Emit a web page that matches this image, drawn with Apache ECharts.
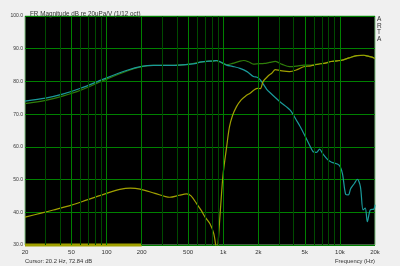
<!DOCTYPE html>
<html>
<head>
<meta charset="utf-8">
<script src="https://cdn.jsdelivr.net/npm/echarts@6/dist/echarts.min.js"></script>
<style>
  html, body { margin: 0; padding: 0; background: #f0f0f0; }
  #chart { width: 400px; height: 266px; }
</style>
</head>
<body>
<div id="chart"></div>
<script>
// woofer (teal)
var wooferFreq = [20, 30, 42, 60, 94, 150, 200, 252, 372, 500, 590, 632, 830, 880, 1000, 1068, 1200, 1392, 1600, 1812, 1950, 2080, 2360, 2512, 3060, 3730, 4300, 4550, 5000, 5500, 5900, 6300, 6700, 7100, 7900, 8500, 9800, 10500, 11200, 11800, 12400, 13300, 14100, 15000, 15800, 16500, 17200, 18200, 19600, 20000];
var wooferDb = [74.0, 74.9, 76.1, 77.9, 80.7, 83.4, 84.6, 84.9, 84.9, 85.2, 85.5, 85.9, 86.3, 86.4, 85.5, 85.0, 84.6, 84.0, 83.0, 81.5, 81.3, 80.5, 77.6, 76.6, 73.8, 71.3, 67.8, 66.3, 63.5, 60.5, 58.5, 58.3, 59.3, 58.0, 56.0, 55.3, 54.5, 52.0, 45.5, 45.3, 47.3, 48.8, 50.1, 47.8, 40.7, 41.3, 37.1, 40.7, 41.0, 42.3];

// sum (green)
var sumFreq = [20, 30, 42, 60, 94, 150, 200, 252, 372, 500, 632, 880, 1000, 1070, 1200, 1392, 1500, 1650, 1812, 2000, 2250, 2500, 2800, 3200, 3700, 4300, 4900, 5500, 6000, 6800, 7500, 8400, 9500, 10700, 12000, 14000, 16000, 17000, 18500, 20000];
var sumDb = [73.2, 74.2, 75.5, 77.3, 80.3, 83.2, 84.5, 84.9, 84.9, 85.2, 85.9, 86.3, 85.5, 85.1, 85.5, 86.2, 86.4, 86.0, 85.3, 85.4, 85.5, 85.8, 86.1, 85.2, 84.5, 84.7, 85.0, 85.0, 85.1, 85.4, 85.6, 86.1, 86.3, 86.6, 87.2, 87.9, 88.0, 87.8, 87.5, 87.0];

// tweeter (yellow)
var tweeterFreq = [20, 28, 35, 50, 67, 100, 130, 160, 194, 260, 348, 420, 485, 530, 590, 650, 700, 770, 830, 870, 890, 910, 960, 1000, 1070, 1130, 1200, 1300, 1420, 1550, 1700, 1960, 2080, 2200, 2450, 2600, 2800, 3100, 3700, 4300, 4900, 5500, 6000, 6800, 7500, 8400, 9500, 10700, 12000, 14000, 16000, 17000, 18500, 20000];
var tweeterDb = [38.5, 39.8, 40.7, 42.2, 43.7, 45.8, 47.0, 47.4, 47.1, 45.8, 44.6, 45.2, 45.6, 45.0, 42.7, 40.5, 38.5, 36.5, 33.5, 29.0, 27.0, 32.0, 44.0, 52.0, 60.0, 66.0, 69.5, 72.3, 74.3, 75.5, 76.4, 77.9, 77.8, 80.0, 81.8, 82.5, 83.6, 83.3, 83.0, 83.6, 84.5, 84.7, 85.0, 85.4, 85.6, 86.1, 86.3, 86.6, 87.2, 87.9, 88.0, 87.8, 87.5, 87.0];

// marker bar at the bottom
var markerFreq = [20, 200];
var markerDb = [30, 30];

var xLabels = [20, 50, 100, 200, 500, 1000, 2000, 5000, 10000, 20000];
var majorGrid = [50, 100, 200, 500, 1000, 2000, 5000, 10000];
var minorGrid = [30, 40, 60, 70, 80, 90, 300, 400, 600, 700, 800, 900, 3000, 4000, 6000, 7000, 8000, 9000];

function pairs(fs, vs) {
  return fs.map(function (f, i) { return [f, vs[i]]; });
}

var font = "Liberation Sans, Arial, sans-serif";
var chart = echarts.init(document.getElementById("chart"));

var option = {
  backgroundColor: "#f0f0f0",
  animation: false,
  title: {
    text: "FR Magnitude dB re 20uPa/V (1/12 oct)",
    left: 25,
    top: 6,
    textStyle: { fontSize: 6.3, fontWeight: "normal", color: "#333", fontFamily: font }
  },
  grid: {
    left: 25, right: 25, top: 16, bottom: 21,
    show: true,
    backgroundColor: "#000",
    borderColor: "#80c080",
    borderWidth: 1
  },
  xAxis: {
    type: "log",
    logBase: 10,
    min: 20,
    max: 20000,
    axisLine: { show: false },
    axisTick: { show: false },
    splitLine: { show: false },
    axisLabel: {
      customValues: xLabels,
      fontSize: 6,
      color: "#333",
      fontFamily: font,
      margin: 4,
      formatter: function (v) {
        return v >= 1000 ? (v / 1000) + "k" : String(v);
      }
    }
  },
  yAxis: {
    type: "value",
    min: 30,
    max: 100,
    interval: 10,
    axisLine: { show: false },
    axisTick: { show: false },
    splitLine: { lineStyle: { color: "#008000", width: 1 } },
    axisLabel: {
      fontSize: 5,
      color: "#333",
      fontFamily: font,
      margin: 2,
      formatter: function (v) { return v.toFixed(1); }
    }
  },
  graphic: [
    { type: "text", left: 25, top: 258, style: { text: "Cursor: 20.2 Hz, 72.84 dB", fontSize: 5.8, fill: "#333", fontFamily: font } },
    { type: "text", right: 25, top: 258, style: { text: "Frequency (Hz)", fontSize: 5.8, fill: "#333", fontFamily: font } },
    { type: "text", left: 377, top: 16, style: { text: "A\nR\nT\nA", fontSize: 6.5, lineHeight: 6.5, fill: "#333", fontFamily: font } }
  ],
  series: [
    {
      name: "grid",
      type: "line",
      data: [],
      silent: true,
      markLine: {
        silent: true,
        symbol: "none",
        label: { show: false },
        animation: false,
        data: minorGrid.map(function (f) {
          return { xAxis: f, lineStyle: { color: "#004a00", width: 1, type: "solid" } };
        }).concat(majorGrid.map(function (f) {
          return { xAxis: f, lineStyle: { color: "#008000", width: 1, type: "solid" } };
        }))
      }
    },
    {
      name: "sum",
      type: "line",
      data: pairs(sumFreq, sumDb),
      showSymbol: false,
      smooth: 0.3,
      lineStyle: { color: "#2f7d0a", width: 1.2 }
    },
    {
      name: "woofer",
      type: "line",
      data: pairs(wooferFreq, wooferDb),
      showSymbol: false,
      smooth: 0.3,
      lineStyle: { color: "#1a9a9a", width: 1.2 }
    },
    {
      name: "tweeter",
      type: "line",
      data: pairs(tweeterFreq, tweeterDb),
      showSymbol: false,
      smooth: 0.3,
      lineStyle: { color: "#a0a000", width: 1.2 }
    },
    {
      name: "marker",
      type: "line",
      data: pairs(markerFreq, markerDb),
      showSymbol: false,
      clip: false,
      lineStyle: { color: "#a0a000", width: 3 }
    }
  ]
};

chart.setOption(option);
</script>
</body>
</html>
